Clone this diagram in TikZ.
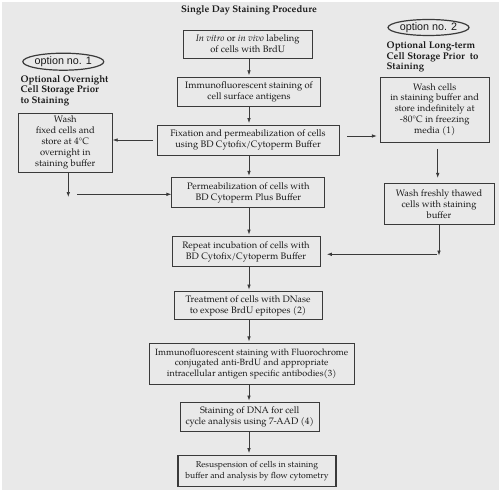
\documentclass[tikz,border=0pt]{standalone}
\usepackage{fontspec}
\setmainfont{texgyrepagella}[Extension=.otf, UprightFont=*-regular, BoldFont=*-bold, ItalicFont=*-italic, BoldItalicFont=*-bolditalic]
\setsansfont{Liberation Sans}
\usetikzlibrary{arrows.meta,shapes.geometric}
\definecolor{bggray}{HTML}{E9E9E9}
\definecolor{linegray}{HTML}{3A3A3A}
\definecolor{textgray}{HTML}{1A1A1A}

\begin{document}
\begin{tikzpicture}[x=1bp, y=-1bp,
    box/.style={draw=linegray, line width=0.8bp, align=center, inner sep=1bp, text=textgray, font=\fontsize{9.4}{11}\selectfont},
    head/.style={align=left, inner sep=0pt, anchor=north west, text=textgray, font=\fontsize{9.7}{10.7}\selectfont\bfseries},
    opt/.style={ellipse, draw=linegray, line width=1.2bp, inner sep=0pt, text=textgray, font=\sffamily\fontsize{10.8}{12}\selectfont},
    arr/.style={-{Latex[length=5bp,width=3.6bp]}, draw=linegray, line width=0.7bp}]

    \useasboundingbox (0,0) rectangle (500,492);
    \fill [bggray] (2,2) rectangle (499,490);

    \node [text=textgray, inner sep=0pt, font=\fontsize{9.7}{11}\selectfont\bfseries] (t) at (249,10) {Single Day Staining Procedure};

    \node [box, minimum width=129bp, minimum height=28bp] (a) at (247.7,44) {\textit{In vitro} or \textit{in vivo} labeling\\ of cells with BrdU};
    \node [box, minimum width=143bp, minimum height=29bp] (b) at (249,91.7) {Immunofluorescent staining of\\ cell surface antigens};
    \node [box, minimum width=182bp, minimum height=30bp] (c) at (248,140) {Fixation and permeabilization of cells\\ using BD Cytofix/Cytoperm Buffer};
    \node [box, minimum width=153bp, minimum height=30bp] (d) at (248.3,192.7) {Permeabilization of cells with\\ BD Cytoperm Plus Buffer};
    \node [box, minimum width=148bp, minimum height=30bp] (e) at (246,251.5) {Repeat incubation of cells with\\ BD Cytofix/Cytoperm Buffer};
    \node [box, minimum width=148bp, minimum height=28bp] (f) at (248,305.5) {Treatment of cells with DNase\\ to expose BrdU epitopes (2)};
    \node [box, font=\fontsize{9.1}{10.4}\selectfont, minimum width=205bp, minimum height=41bp] (g) at (251.7,363.8) {Immunofluorescent staining with Fluorochrome\\ conjugated anti-BrdU and appropriate\\ intracellular antigen specific antibodies(3)};
    \node [box, minimum width=139bp, minimum height=29bp] (h) at (249.7,417) {Staining of DNA for cell\\ cycle analysis using 7-AAD (4)};
    \node [box, font=\fontsize{8.6}{11}\selectfont, line width=1.8bp, minimum width=158bp, minimum height=31bp] (i) at (257,471) {Resuspension of cells in staining\\ buffer and analysis by flow cytometry};

    \node [opt, minimum width=73bp, minimum height=17bp] (m) at (63.3,61.7) {option no. 1};
    \node [head] (o) at (20.5,75) {Optional Overnight\\ Cell Storage Prior\\ to Staining};
    \node [box, minimum width=94bp, minimum height=59bp] (j) at (65.3,142.7) {Wash\\ fixed cells and\\ store at 4°C\\ overnight in\\ staining buffer};

    \node [opt, minimum width=71bp, minimum height=16bp] (n) at (428.5,27.5) {option no. 2};
    \node [head] (p) at (386.5,41.5) {Optional Long-term\\ Cell Storage Prior\ \ to\\ Staining};
    \node [box, minimum width=109bp, minimum height=65bp] (k) at (434.7,109.7) {Wash cells\\ in staining buffer and\\ store indefinitely at\\ -80°C in freezing\\ media (1)};
    \node [box, minimum width=110bp, minimum height=41bp] (l) at (439,203.8) {Wash freshly thawed\\ cells with staining\\ buffer};

    \coordinate (col) at (249,0);
    \coordinate (c1) at (153,140);
    \coordinate (c2) at (347,136);
    \coordinate (c3) at (68.3,197);
    \coordinate (c4) at (77.3,194.3);
    \coordinate (c5) at (437.7,149);
    \coordinate (c6) at (439,255.5);
    \coordinate (c7) at (437,254.3);

    \draw [arr, shorten >=1.5bp] (a.south -| col) -- (b.north -| col);
    \draw [arr, shorten >=1.5bp] (b.south -| col) -- (c.north -| col);
    \draw [arr, shorten >=1.5bp] (c.south -| col) -- (d.north -| col);
    \draw [arr, shorten >=1.5bp] (d.south -| col) -- (e.north -| col);
    \draw [arr, shorten >=1.5bp] (e.south -| col) -- (f.north -| col);
    \draw [arr, shorten >=1.5bp] (f.south -| col) -- (g.north -| col);
    \draw [arr, shorten >=1.5bp] (g.south -| col) -- (h.north -| col);
    \draw [arr, shorten >=1.5bp] (h.south -| col) -- (i.north -| col);

    \draw [arr] (c1) -- (c1 -| j.east);
    \draw [arr] (c3 |- j.south) -- (c3);
    \draw [arr] (c4) -- (c4 -| d.west);

    \draw [arr, shorten >=3bp] (c2) -- (c2 -| k.west);
    \draw [arr, shorten >=5bp] (c5) -- (c5 |- l.north);
    \draw [arr] (c6 |- l.south) -- (c6);
    \draw [arr, shorten >=6.5bp] (c7) -- (c7 -| e.east);

\end{tikzpicture}
\end{document}
